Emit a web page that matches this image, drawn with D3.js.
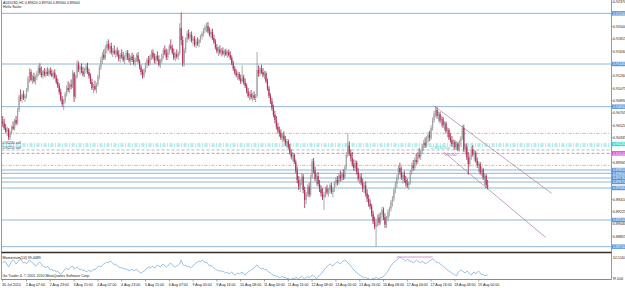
<!DOCTYPE html>
<html>
<head>
<meta charset="utf-8">
<script src="https://cdn.jsdelivr.net/npm/d3@7"></script>
<style>
  body { margin: 0; background: #fff; }
  svg { display: block; font-family: "Liberation Sans", Arial, sans-serif; }
</style>
</head>
<body>
<svg id="chart" width="625" height="288"></svg>
<script>
// AUDUSD H1 bars, prices kept in pips (price * 10000): [open, high, low, close]
let bars = [
[9058,9066,9050,9055],[9055,9062,9045,9048],[9048,9054,9040,9043],[9043,9050,9036,9046],[9046,9048,9030,9034],
[9034,9044,9030,9041],[9041,9052,9038,9050],[9050,9058,9045,9047],[9047,9062,9044,9060],[9060,9066,9052,9055],
[9055,9078,9053,9076],[9076,9098,9072,9095],[9095,9106,9088,9092],[9092,9100,9086,9098],[9098,9104,9090,9093],
[9093,9099,9087,9096],[9096,9108,9092,9105],[9105,9126,9102,9122],[9122,9138,9116,9132],[9132,9136,9118,9120],
[9120,9128,9114,9125],[9125,9131,9116,9118],[9118,9127,9113,9124],[9124,9134,9120,9130],[9130,9142,9126,9138],
[9138,9145,9128,9131],[9131,9140,9124,9127],[9127,9135,9122,9133],[9133,9138,9125,9128],[9128,9136,9124,9132],
[9132,9139,9126,9129],[9129,9137,9125,9134],[9134,9139,9127,9130],[9130,9136,9124,9126],[9126,9134,9121,9131],
[9131,9136,9122,9124],[9124,9128,9114,9117],[9117,9122,9108,9111],[9111,9115,9098,9102],[9102,9107,9088,9091],
[9091,9096,9080,9084],[9084,9092,9075,9089],[9089,9102,9085,9099],[9099,9112,9095,9108],[9108,9118,9102,9105],
[9105,9116,9100,9113],[9113,9121,9106,9110],[9110,9135,9108,9130],[9130,9132,9087,9095],[9095,9128,9092,9125],
[9125,9150,9122,9143],[9143,9148,9132,9136],[9136,9142,9128,9139],[9139,9145,9130,9133],[9133,9140,9125,9128],
[9128,9138,9124,9135],[9135,9144,9130,9140],[9140,9146,9129,9132],[9132,9137,9122,9126],[9126,9130,9114,9117],
[9117,9122,9105,9108],[9108,9114,9100,9111],[9111,9119,9104,9106],[9106,9116,9100,9114],[9114,9128,9110,9125],
[9125,9142,9121,9139],[9139,9155,9135,9150],[9150,9162,9144,9158],[9158,9166,9150,9153],[9153,9172,9150,9168],
[9168,9178,9160,9174],[9174,9181,9164,9167],[9167,9175,9160,9171],[9171,9176,9158,9161],[9161,9168,9154,9164],
[9164,9172,9158,9160],[9160,9166,9153,9163],[9163,9169,9155,9158],[9158,9165,9148,9152],[9152,9161,9146,9158],
[9158,9166,9152,9155],[9155,9162,9147,9150],[9150,9158,9144,9156],[9156,9164,9150,9161],[9161,9165,9150,9153],
[9153,9160,9146,9149],[9149,9157,9142,9155],[9155,9161,9147,9150],[9150,9158,9143,9146],[9146,9154,9140,9152],
[9152,9160,9147,9157],[9157,9162,9145,9148],[9148,9151,9136,9139],[9139,9143,9128,9132],[9132,9136,9122,9126],
[9126,9138,9123,9135],[9135,9146,9131,9143],[9143,9153,9138,9150],[9150,9156,9141,9145],[9145,9158,9142,9155],
[9155,9165,9150,9161],[9161,9166,9151,9154],[9154,9160,9145,9149],[9149,9158,9144,9156],[9156,9163,9148,9151],
[9151,9157,9140,9143],[9143,9152,9138,9149],[9149,9160,9145,9157],[9157,9168,9152,9165],[9165,9172,9157,9160],
[9160,9167,9150,9154],[9154,9166,9150,9163],[9163,9174,9158,9171],[9171,9181,9165,9168],[9168,9173,9158,9161],
[9161,9167,9150,9153],[9153,9162,9148,9159],[9159,9166,9152,9155],[9155,9163,9150,9160],[9160,9205,9157,9198],
[9198,9221,9172,9180],[9180,9186,9140,9145],[9145,9168,9140,9165],[9165,9184,9160,9180],[9180,9194,9176,9190],
[9190,9196,9181,9184],[9184,9192,9178,9188],[9188,9193,9176,9179],[9179,9185,9172,9182],[9182,9186,9170,9173],
[9173,9181,9168,9177],[9177,9184,9171,9175],[9175,9182,9169,9180],[9180,9188,9176,9186],[9186,9193,9181,9190],
[9190,9198,9185,9195],[9195,9203,9190,9199],[9199,9206,9192,9201],[9201,9207,9190,9193],[9193,9199,9185,9188],
[9188,9196,9182,9192],[9192,9197,9180,9183],[9183,9188,9174,9177],[9177,9181,9166,9169],[9169,9174,9160,9163],
[9163,9170,9156,9166],[9166,9172,9158,9161],[9161,9168,9155,9164],[9164,9169,9157,9159],[9159,9166,9154,9163],
[9163,9167,9156,9158],[9158,9165,9153,9162],[9162,9166,9155,9157],[9157,9163,9150,9153],[9153,9157,9142,9145],
[9145,9149,9134,9137],[9137,9141,9128,9131],[9131,9136,9124,9127],[9127,9133,9120,9129],[9129,9132,9119,9122],
[9122,9128,9114,9118],[9118,9142,9116,9124],[9124,9128,9113,9116],[9116,9122,9108,9111],[9111,9115,9100,9103],
[9103,9108,9093,9096],[9096,9102,9089,9099],[9099,9105,9091,9094],[9094,9101,9088,9097],[9097,9103,9090,9093],
[9093,9099,9087,9096],[9096,9162,9093,9135],[9135,9142,9125,9130],[9130,9140,9126,9137],[9137,9143,9129,9132],
[9132,9138,9124,9127],[9127,9134,9121,9130],[9130,9133,9115,9118],[9118,9122,9104,9107],[9107,9111,9093,9096],
[9096,9100,9084,9088],[9088,9093,9074,9078],[9078,9083,9064,9068],[9068,9074,9055,9060],[9060,9066,9046,9050],
[9050,9056,9040,9044],[9044,9050,9035,9041],[9041,9046,9030,9033],[9033,9040,9026,9037],[9037,9043,9028,9031],
[9031,9036,9021,9025],[9025,9032,9019,9028],[9028,9031,9016,9019],[9019,9024,9008,9011],[9011,9016,9001,9005],
[9005,9012,8998,9008],[9008,9010,8994,8997],[8997,9001,8980,8984],[8984,8990,8965,8970],[8970,8976,8955,8960],
[8960,8972,8952,8968],[8968,8980,8962,8975],[8975,8979,8950,8955],[8955,8960,8928,8940],[8940,8952,8934,8949],
[8949,8963,8945,8960],[8960,8966,8944,8948],[8948,8978,8945,8975],[8975,9002,8972,8998],[8998,9003,8980,8984],
[8984,8990,8968,8972],[8972,8980,8962,8976],[8976,8982,8960,8964],[8964,8970,8952,8956],[8956,8962,8945,8950],
[8950,8958,8940,8944],[8944,8952,8925,8948],[8948,8960,8944,8957],[8957,8963,8948,8951],[8951,8958,8945,8955],
[8955,8965,8950,8962],[8962,8966,8949,8952],[8952,8959,8944,8956],[8956,8968,8952,8965],[8965,8974,8960,8970],
[8970,8976,8962,8966],[8966,8980,8963,8977],[8977,8984,8968,8972],[8972,8982,8968,8979],[8979,8986,8970,8974],
[8974,8992,8971,8989],[8989,9012,8986,9008],[9008,9040,9004,9022],[9022,9028,9006,9010],[9010,9016,8998,9003],
[9003,9012,8990,8994],[8994,9001,8984,8988],[8988,9000,8983,8996],[8996,8999,8978,8982],[8982,8988,8968,8972],
[8972,8979,8964,8975],[8975,8980,8962,8966],[8966,8972,8952,8957],[8957,8966,8950,8962],[8962,8968,8945,8950],
[8950,8956,8937,8942],[8942,8948,8930,8935],[8935,8941,8926,8930],[8930,8934,8915,8919],[8919,8924,8904,8908],
[8908,8915,8896,8900],[8900,8912,8870,8905],[8905,8918,8900,8914],[8914,8920,8902,8906],[8906,8922,8903,8918],
[8918,8930,8912,8925],[8925,8929,8910,8914],[8914,8920,8898,8903],[8903,8916,8898,8912],[8912,8926,8908,8922],
[8922,8930,8915,8927],[8927,8940,8923,8937],[8937,8946,8930,8942],[8942,8958,8938,8955],[8955,8968,8950,8964],
[8964,8978,8958,8974],[8974,8992,8970,8988],[8988,8996,8978,8982],[8982,8990,8970,8974],[8974,8982,8965,8978],
[8978,8984,8966,8970],[8970,8976,8960,8965],[8965,8972,8958,8962],[8962,8968,8955,8966],[8966,8985,8963,8982],
[8982,8996,8978,8992],[8992,9000,8984,8988],[8988,9004,8985,9000],[9000,9010,8993,8997],[8997,9012,8994,9008],
[9008,9018,9002,9005],[9005,9016,9000,9013],[9013,9024,9009,9020],[9020,9030,9014,9026],[9026,9034,9018,9022],
[9022,9036,9019,9032],[9032,9042,9026,9038],[9038,9044,9028,9033],[9033,9052,9030,9048],[9048,9064,9044,9060],
[9060,9074,9056,9070],[9070,9081,9064,9075],[9075,9079,9062,9066],[9066,9073,9058,9069],[9069,9072,9055,9059],
[9059,9066,9050,9062],[9062,9065,9048,9052],[9052,9058,9044,9055],[9055,9058,9040,9043],[9043,9049,9034,9045],
[9045,9048,9030,9034],[9034,9040,9026,9030],[9030,9036,9020,9024],[9024,9031,9017,9027],[9027,9030,9015,9019],
[9019,9028,9015,9024],[9024,9027,9013,9016],[9016,9030,9013,9028],[9028,9036,9020,9033],[9033,9052,9030,9048],
[9048,9053,9012,9016],[9016,9024,9008,9020],[9020,9025,9000,9004],[9004,9012,8978,8994],[8994,9008,8990,9004],
[9004,9020,9000,9016],[9016,9022,9005,9008],[9008,9015,8998,9011],[9011,9014,8996,8999],[8999,9004,8988,8992],
[8992,8998,8982,8994],[8994,8997,8978,8981],[8981,8990,8976,8986],[8986,8988,8970,8973],[8973,8980,8962,8976],
[8976,8979,8958,8962],[8962,8970,8956,8960]
];

// Momentum(14), one value per bar
let momentum = [
100.7,100.9,100.8,100.5,100.3,100.6,100.9,101.0,100.8,100.6,
100.8,101.0,101.1,100.9,100.7,100.8,100.6,100.8,101.0,100.9,
100.7,100.6,100.4,100.5,100.7,100.8,100.6,100.4,100.3,100.2,
100.4,100.2,100.0,100.1,99.9,100.0,99.8,99.9,99.7,99.6,
99.7,99.9,100.1,100.2,100.0,100.2,100.3,100.4,100.1,100.2,
100.3,100.2,100.0,100.1,99.9,100.0,99.8,99.9,100.0,99.8,
99.9,100.1,100.0,100.2,100.3,100.4,100.3,100.5,100.6,100.7,
100.8,100.7,100.9,100.8,100.7,100.5,100.6,100.4,100.3,100.2,
100.3,100.1,100.2,100.0,100.1,99.9,100.0,100.1,99.9,100.0,
100.1,99.9,99.8,99.7,99.8,99.9,100.0,100.2,100.3,100.2,
100.3,100.4,100.2,100.3,100.5,100.4,100.3,100.5,100.6,100.4,
100.3,100.4,100.6,100.7,100.5,100.4,100.3,100.4,100.5,100.6,
101.0,100.6,100.4,100.5,100.3,100.4,100.2,100.3,100.4,100.6,
100.7,100.8,100.9,100.8,101.0,100.9,100.7,100.8,100.6,100.4,
100.5,100.3,100.2,100.1,100.0,99.9,100.0,99.8,99.9,99.8,
99.7,99.8,99.6,99.7,99.8,99.6,99.5,99.6,99.7,99.6,
99.7,99.8,99.6,99.5,99.7,99.8,99.9,100.0,100.1,100.2,
100.4,100.5,100.3,100.2,100.1,100.2,100.0,100.1,99.9,99.8,
99.7,99.6,99.4,99.5,99.3,99.4,99.2,99.3,99.4,99.2,
99.3,99.1,99.2,99.0,99.1,99.2,99.1,99.3,99.2,99.1,
99.3,99.4,99.2,99.1,99.3,99.4,99.2,99.3,99.5,99.4,
99.3,99.1,99.3,99.5,99.6,99.8,100.0,100.2,100.3,100.5,
100.6,100.5,100.4,100.6,100.7,100.8,100.7,100.6,100.8,100.9,
101.0,100.9,100.7,100.6,100.4,100.2,100.0,99.9,99.7,99.6,
99.5,99.4,99.3,99.2,99.3,99.1,99.2,99.0,99.1,99.2,
99.1,99.3,99.2,99.1,99.3,99.2,99.4,99.5,99.7,99.9,
100.2,100.4,100.6,100.8,100.9,101.0,101.2,101.3,101.2,101.1,
101.0,100.9,101.1,101.0,100.8,100.9,100.7,100.8,101.0,100.9,
100.8,100.7,100.9,100.8,100.6,100.7,100.8,100.9,101.0,101.1,
101.0,100.9,100.7,100.8,100.6,100.5,100.4,100.3,100.1,100.0,
99.9,99.8,99.7,99.6,99.5,99.4,99.7,99.9,100.0,99.9,
99.8,99.7,99.9,99.8,99.6,99.5,99.7,99.8,99.6,99.8,
99.9,99.7,99.5,99.6,99.4,99.5,99.4489
];

// time axis: one label every 16 bars
let timeLabels = ["30 Jul 2010","2 Aug 07:00","2 Aug 23:00","3 Aug 15:00","4 Aug 07:00","4 Aug 23:00",
  "5 Aug 15:00","6 Aug 07:00","9 Aug 00:00","9 Aug 16:00","10 Aug 08:00","11 Aug 00:00","11 Aug 16:00",
  "12 Aug 08:00","13 Aug 00:00","13 Aug 16:00","16 Aug 08:00","17 Aug 00:00","17 Aug 16:00",
  "18 Aug 08:00","19 Aug 00:00"];

let priceTicks = [9237,9200,9181.5,9163,9126,9107.5,9089,9070.5,9052,9033.5,
  8996.5,8941,8922.5,8904,8885.5];

let blueLevels = [9220, 9144, 9080, 8985, 8980, 8973, 8967, 8958, 8910, 8870];
let orangeLevels = [9040, 8992];
let cyanLevels = [9024, 9021];
let greenLevels = [9015];
let magentaLevels = [9010];

// channel trend lines: [bar1, price1, bar2, price2]
let channel = [[290, 9081, 369, 8950], [296.5, 9012, 365, 8884]];

let momTicks = [101.514, 99.104];
let momSegment = [265, 289, 101.3];

let title1 = "AUDUSD,H1  0.89620 0.89700 0.89560 0.89600";
let title2 = "Hello Sailor";

function getConfig() {
  let svg = d3.select("#chart");
  return {
    svg,
    left: 1.5,
    right: 611.5,
    mainBottom: 252,
    momBottom: 279.5
  };
}

function getScales(config) {
  let xScale = d3.scaleLinear().domain([0, 400]).range([2.7, 2.7 + 400 * 1.4875]);
  let yScale = d3.scaleLinear().domain([9240, 8862]).range([0, 252]);
  let mScale = d3.scaleLinear().domain([99.0, 101.5]).range([280, 255]);
  return { xScale, yScale, mScale };
}

function drawLevels(config, scales) {
  let { svg, left, right } = config;
  let { yScale } = scales;
  let g = svg.append("g");

  function levels(list, color, dash, width) {
    g.selectAll(null).data(list).enter().append("line")
      .attr("x1", left).attr("x2", right)
      .attr("y1", d => yScale(d)).attr("y2", d => yScale(d))
      .attr("stroke", color)
      .attr("stroke-width", width)
      .attr("stroke-dasharray", dash);
  }
  levels(blueLevels, "#8fb6d2", null, 1);
  levels(orangeLevels, "#dba88a", "3,1.5,1,1.5", 0.9);
  levels(cyanLevels, "#55d6d6", "3,1.5,1,1.5", 0.9);
  levels(greenLevels, "#9cc0aa", "3,2", 0.9);
  levels(magentaLevels, "#e27be2", "3,2", 1);
}

function drawCandles(config, scales) {
  let { svg } = config;
  let { xScale, yScale } = scales;
  let g = svg.append("g");

  g.selectAll(".wick").data(bars).enter().append("line")
    .attr("x1", (d, i) => xScale(i)).attr("x2", (d, i) => xScale(i))
    .attr("y1", d => yScale(d[1])).attr("y2", d => yScale(d[2]))
    .attr("stroke", d => d[3] >= d[0] ? "#858585" : "#7d1233")
    .attr("stroke-width", 0.7);

  g.selectAll(".body").data(bars).enter().append("rect")
    .attr("x", (d, i) => xScale(i) - 0.6)
    .attr("width", 1.2)
    .attr("y", d => yScale(Math.max(d[0], d[3])))
    .attr("height", d => Math.max(0.6, Math.abs(yScale(d[0]) - yScale(d[3]))))
    .attr("fill", d => d[3] >= d[0] ? "#a4a4a4" : "#b82e58");
}

function drawChannel(config, scales) {
  let { svg } = config;
  let { xScale, yScale } = scales;
  svg.append("g").selectAll("line").data(channel).enter().append("line")
    .attr("x1", d => xScale(d[0])).attr("y1", d => yScale(d[1]))
    .attr("x2", d => xScale(d[2])).attr("y2", d => yScale(d[3]))
    .attr("stroke", "#b58ab5")
    .attr("stroke-width", 0.8);
}

function drawPriceAxis(config, scales) {
  let { svg, right } = config;
  let { yScale } = scales;
  let g = svg.append("g");

  g.selectAll(".tick").data(priceTicks).enter().append("line")
    .attr("x1", right).attr("x2", right + 1.5)
    .attr("y1", d => yScale(d)).attr("y2", d => yScale(d))
    .attr("stroke", "#777").attr("stroke-width", 0.6);

  g.selectAll(".lbl").data(priceTicks).enter().append("text")
    .attr("x", right + 1.5).attr("y", d => yScale(d) + 1.4)
    .attr("font-size", 3.6).attr("fill", "#222")
    .text(d => (d / 10000).toFixed(5));

  // price boxes for the horizontal lines (one box for the cyan pair)
  let boxes = blueLevels.map(v => [v, "#5b97d9"])
    .concat([[cyanLevels[0], "#3fdcdc"]])
    .concat(magentaLevels.map(v => [v, "#e048e0"]));
  let bg = g.selectAll(".box").data(boxes).enter().append("g");
  bg.append("rect")
    .attr("x", right + 0.5).attr("width", 14)
    .attr("y", d => yScale(d[0]) - 2.2).attr("height", 4.4)
    .attr("fill", d => d[1]);
  bg.append("text")
    .attr("x", right + 1.5).attr("y", d => yScale(d[0]) + 1.3)
    .attr("font-size", 3.4).attr("fill", "#fff")
    .text(d => (d[0] / 10000).toFixed(5));
}

function drawMomentum(config, scales) {
  let { svg, right } = config;
  let { xScale, mScale } = scales;
  let line = d3.line().x((d, i) => xScale(i)).y(d => mScale(d));
  svg.append("path").datum(momentum)
    .attr("d", line)
    .attr("fill", "none")
    .attr("stroke", "#86b4d8")
    .attr("stroke-width", 0.8);

  svg.append("line")
    .attr("x1", xScale(momSegment[0])).attr("x2", xScale(momSegment[1]))
    .attr("y1", mScale(momSegment[2])).attr("y2", mScale(momSegment[2]))
    .attr("stroke", "#d58ad5").attr("stroke-width", 0.9);

  svg.selectAll(".mtick").data(momTicks).enter().append("text")
    .attr("x", right + 1.2).attr("y", (d, i) => i === 0 ? 258.5 : mScale(d) + 1.4)
    .attr("font-size", 2.9).attr("fill", "#222")
    .text(d => d.toFixed(4));

  svg.append("text").attr("x", 2.5).attr("y", 258.5)
    .attr("font-size", 3.6).attr("fill", "#222")
    .text("Momentum(14) " + momentum[momentum.length - 1].toFixed(4));
  svg.append("text").attr("x", 2.5).attr("y", 277)
    .attr("font-size", 3.6).attr("fill", "#222")
    .text("Go Trader 4, \u00a9 2001-2010 MetaQuotes Software Corp.");
}

function drawTimeAxis(config, scales) {
  let { svg, momBottom } = config;
  let { xScale } = scales;
  let g = svg.append("g");
  g.selectAll("line").data(timeLabels).enter().append("line")
    .attr("x1", (d, k) => xScale(k * 16)).attr("x2", (d, k) => xScale(k * 16))
    .attr("y1", momBottom).attr("y2", momBottom + 2)
    .attr("stroke", "#666").attr("stroke-width", 0.6);
  g.selectAll("text").data(timeLabels).enter().append("text")
    .attr("x", (d, k) => xScale(k * 16) - 0.6).attr("y", 285.5)
    .attr("font-size", 3.6).attr("fill", "#222")
    .text(d => d);
}

function drawFrame(config) {
  let { svg, left, right, mainBottom, momBottom } = config;
  svg.append("line").attr("x1", left).attr("x2", left).attr("y1", 0).attr("y2", momBottom)
    .attr("stroke", "#9a9a9a").attr("stroke-width", 1);
  svg.append("line").attr("x1", right).attr("x2", right).attr("y1", 0).attr("y2", momBottom)
    .attr("stroke", "#9a9a9a").attr("stroke-width", 1);
  svg.append("line").attr("x1", left).attr("x2", right).attr("y1", mainBottom + 0.5).attr("y2", mainBottom + 0.5)
    .attr("stroke", "#2e2e2e").attr("stroke-width", 1.5);
  svg.append("line").attr("x1", left).attr("x2", right).attr("y1", momBottom).attr("y2", momBottom)
    .attr("stroke", "#8a8a8a").attr("stroke-width", 1);
}

function drawTexts(config, scales) {
  let { svg } = config;
  let { xScale, yScale } = scales;
  svg.append("text").attr("x", 3).attr("y", 4.2).attr("font-size", 3.6).attr("fill", "#222").text(title1);
  svg.append("text").attr("x", 3).attr("y", 8.4).attr("font-size", 3.6).attr("fill", "#222").text(title2);

  svg.append("text").attr("x", 2.5).attr("y", yScale(cyanLevels[0]) - 0.4)
    .attr("font-size", 3.4).attr("fill", "#333").text("0.90240 sell");
  svg.append("text").attr("x", 2.5).attr("y", yScale(cyanLevels[1]) + 3)
    .attr("font-size", 3.4).attr("fill", "#333").text("0.90210 sell");

  svg.append("text").attr("x", xScale(288)).attr("y", yScale(cyanLevels[1]) + 2.6)
    .attr("font-size", 3.4).attr("fill", "#36c8c8").text("0.90240 buy");
  svg.append("text").attr("x", xScale(297)).attr("y", yScale(magentaLevels[0]) + 3)
    .attr("font-size", 3.4).attr("fill", "#c84fc8").text("0.90100");
}

function showChart() {
  let config = getConfig();
  let scales = getScales(config);
  drawLevels(config, scales);
  drawChannel(config, scales);
  drawCandles(config, scales);
  drawMomentum(config, scales);
  drawFrame(config);
  drawPriceAxis(config, scales);
  drawTimeAxis(config, scales);
  drawTexts(config, scales);
}

showChart();
</script>
</body>
</html>
